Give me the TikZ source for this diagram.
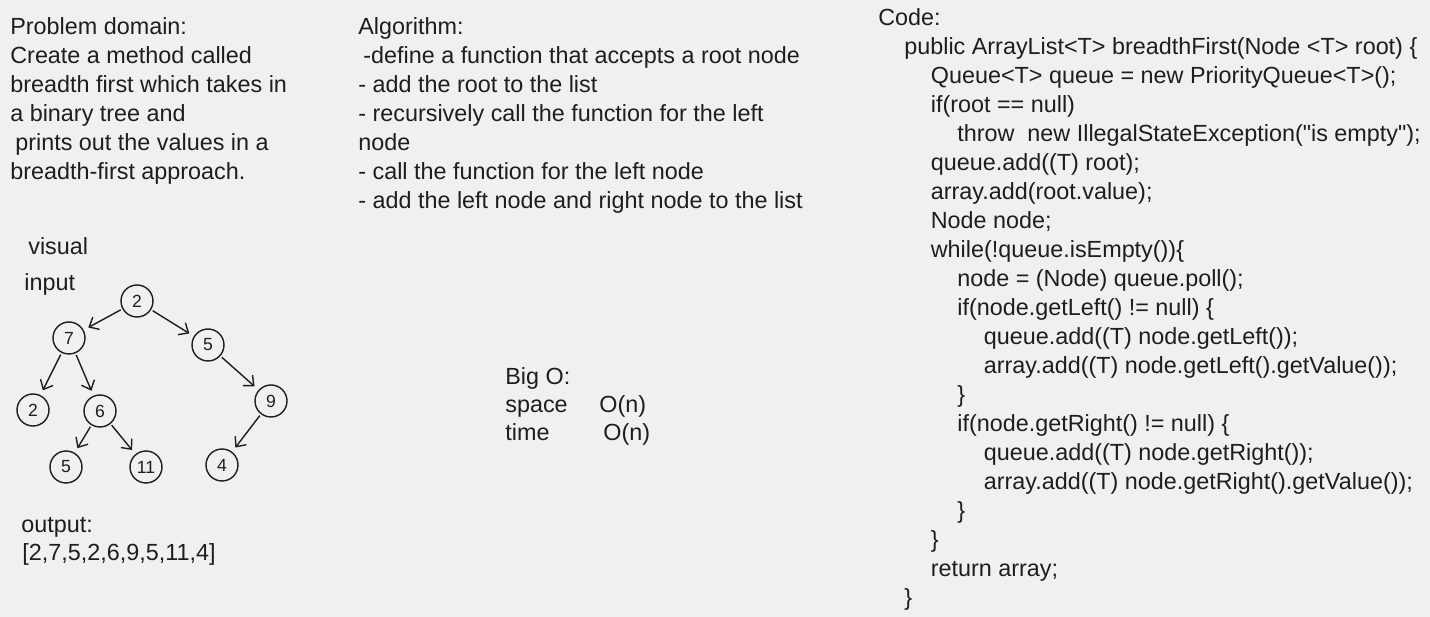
\documentclass[tikz,border=0pt]{standalone}
\usepackage{fontspec}
\setmainfont{Liberation Sans}[Ligatures=TeXOff]
\usetikzlibrary{arrows.meta}
\definecolor{paper}{RGB}{240,240,240}
\definecolor{ink}{RGB}{30,30,30}

\begin{document}
\begin{tikzpicture}[x=0.02cm, y=-0.02cm,
    txt/.style={anchor=base west, inner sep=0pt, text=ink, font=\fontsize{13.3}{16}\selectfont},
    vert/.style={circle, draw=ink, line width=0.8pt, minimum size=0.64cm, inner sep=0pt, text=ink, font=\fontsize{10}{11}\selectfont},
    edge/.style={draw=ink, line width=0.8pt, -{Straight Barb[length=4.5pt,width=8pt]}, shorten >=3pt, shorten <=1pt},
  ]
    \fill[paper] (0,0) rectangle (1430,617);

    % problem domain
    \node[txt] (pd0) at (10,35) {Problem domain:};
    \node[txt] (pd1) at (10,64) {Create a method called};
    \node[txt] (pd2) at (10,93) {breadth first which takes in};
    \node[txt] (pd3) at (10,122) {a binary tree and};
    \node[txt] (pd4) at (15,151) {prints out the values in a};
    \node[txt] (pd5) at (10,180) {breadth-first approach.};

    % algorithm
    \node[txt] (al0) at (358,35) {Algorithm:};
    \node[txt] (al1) at (363,64) {-define a function that accepts a root node};
    \node[txt] (al2) at (358,93) {- add the root to the list};
    \node[txt] (al3) at (358,122) {- recursively call the function for the left};
    \node[txt] (al4) at (358,151) {node};
    \node[txt] (al5) at (358,180) {- call the function for the left node};
    \node[txt] (al6) at (358,209) {- add the left node and right node to the list};

    % tree
    \node[txt] (vis) at (28,255) {visual};
    \node[txt] (inp) at (24,291) {input};

    \node[vert] (r2) at (137,301) {2};
    \node[vert] (l7) at (69,338) {7};
    \node[vert] (r5) at (208,345) {5};
    \node[vert] (ll2) at (33,410) {2};
    \node[vert] (lr6) at (100,411) {6};
    \node[vert] (rr9) at (271,401) {9};
    \node[vert] (lrl5) at (66,467) {5};
    \node[vert] (lrr11) at (146,467) {11};
    \node[vert] (rrl4) at (222,465) {4};

    \draw[edge] (r2) -- (l7);
    \draw[edge] (r2) -- (r5);
    \draw[edge] (l7) -- (ll2);
    \draw[edge] (l7) -- (lr6);
    \draw[edge] (r5) -- (rr9);
    \draw[edge] (lr6) -- (lrl5);
    \draw[edge] (lr6) -- (lrr11);
    \draw[edge] (rr9) -- (rrl4);

    \node[txt] (out0) at (21,533) {output:};
    \node[txt] (out1) at (22,561) {[2,7,5,2,6,9,5,11,4]};

    % big o
    \node[txt] (bo0) at (505,385) {Big O:};
    \node[txt] (bo1) at (505,413) {space};
    \node[txt] (bo2) at (599,413) {O(n)};
    \node[txt] (bo3) at (505,441) {time};
    \node[txt] (bo4) at (603,441) {O(n)};

    % code
    \pgfmathsetmacro{\xc}{904};
    \pgfmathsetmacro{\dx}{26.5};
    \node[txt] (c0) at (\xc-26,26) {Code:};
    \node[txt] (c1) at (\xc,55) {public ArrayList<T> breadthFirst(Node <T> root) \{};
    \node[txt] (c2) at (\xc+\dx,84) {Queue<T> queue = new PriorityQueue<T>();};
    \node[txt] (c3) at (\xc+\dx,113) {if(root == null)};
    \node[txt] (c4) at (\xc+2*\dx,142) {throw\ \ new IllegalStateException("is empty");};
    \node[txt] (c5) at (\xc+\dx,171) {queue.add((T) root);};
    \node[txt] (c6) at (\xc+\dx,200) {array.add(root.value);};
    \node[txt] (c7) at (\xc+\dx,229) {Node node;};
    \node[txt] (c8) at (\xc+\dx,258) {while(!queue.isEmpty())\{};
    \node[txt] (c9) at (\xc+2*\dx,287) {node = (Node) queue.poll();};
    \node[txt] (c10) at (\xc+2*\dx,316) {if(node.getLeft() != null) \{};
    \node[txt] (c11) at (\xc+3*\dx,345) {queue.add((T) node.getLeft());};
    \node[txt] (c12) at (\xc+3*\dx,374) {array.add((T) node.getLeft().getValue());};
    \node[txt] (c13) at (\xc+2*\dx,403) {\}};
    \node[txt] (c14) at (\xc+2*\dx,432) {if(node.getRight() != null) \{};
    \node[txt] (c15) at (\xc+3*\dx,461) {queue.add((T) node.getRight());};
    \node[txt] (c16) at (\xc+3*\dx,490) {array.add((T) node.getRight().getValue());};
    \node[txt] (c17) at (\xc+2*\dx,519) {\}};
    \node[txt] (c18) at (\xc+\dx,548) {\}};
    \node[txt] (c19) at (\xc+\dx,577) {return array;};
    \node[txt] (c20) at (\xc,606) {\}};
\end{tikzpicture}
\end{document}
